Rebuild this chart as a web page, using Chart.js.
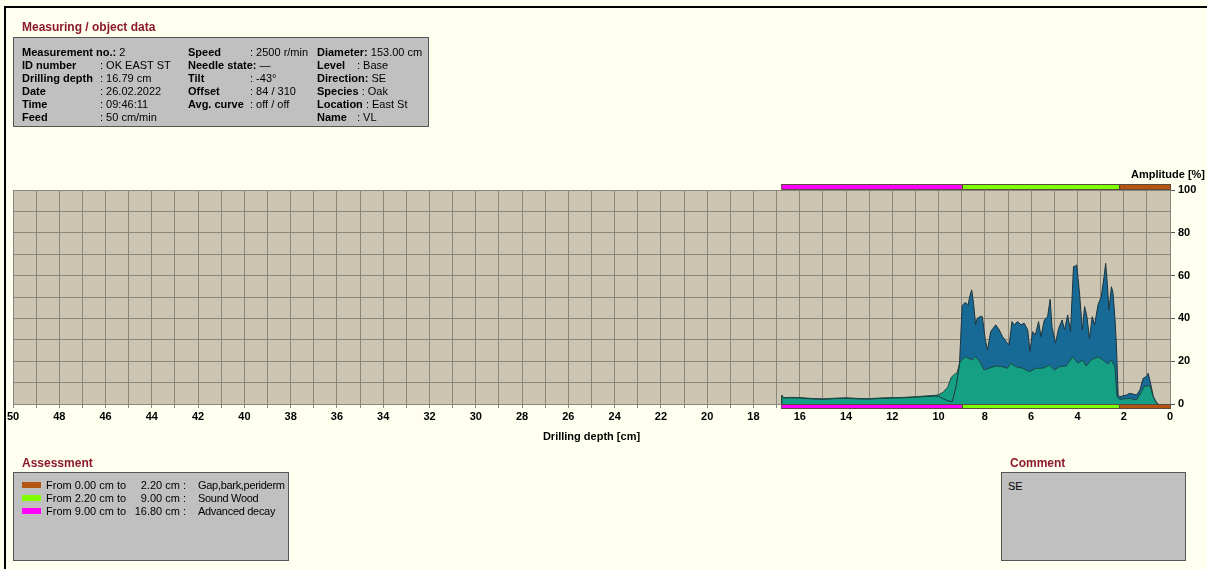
<!DOCTYPE html>
<html>
<head>
<meta charset="utf-8">
<script src="https://cdn.jsdelivr.net/npm/chart.js@4"></script>
<style>
  body { margin: 0; background: #fffff0; font-family: "Liberation Sans", Arial, sans-serif; font-size: 11px; color: #000; }
  #page { position: relative; width: 1207px; height: 569px; overflow: hidden; }
  #frame { position: absolute; left: 4px; top: 6px; width: 1210px; height: 570px; border-left: 2px solid #000; border-top: 2px solid #000; }
  canvas { position: absolute; left: 0; top: 0; }
  .title { position: absolute; color: #8b1a2b; font-weight: bold; font-size: 12px; white-space: nowrap; }
  .box { position: absolute; background: #c0c0c0; border: 1px solid #555; box-sizing: border-box; }
  .t { position: absolute; white-space: pre; line-height: 12px; }
  .b { font-weight: bold; }
  .axis-title { position: absolute; font-weight: bold; font-size: 11px; white-space: nowrap; }
</style>
</head>
<body>
<div id="page">
  <div id="frame"></div>
  <canvas id="chart" width="1207" height="569"></canvas>

  <div class="title" style="left:22px; top:20px;">Measuring / object data</div>
  <div class="box" id="info" style="left:13px; top:37px; width:416px; height:90px;"></div>

  <div class="axis-title" style="right:2px; top:168px;">Amplitude [%]</div>

  <div class="title" style="left:22px; top:456px;">Assessment</div>
  <div class="box" id="assess" style="left:13px; top:472px; width:276px; height:89px;"></div>

  <div class="title" style="left:1010px; top:456px;">Comment</div>
  <div class="box" style="left:1001px; top:472px; width:185px; height:89px;">
    <div class="t" style="left:6px; top:7px;">SE</div>
  </div>
</div>

<script>
// drilling curve: depth [cm] and amplitude [%]
const depthTotal = [16.79, 16.78, 16.7, 16.4, 16, 15.5, 15, 14.5, 14, 13.5, 13, 12.5, 12, 11.5, 11, 10.5, 10.2, 10, 9.8, 9.6, 9.41, 9.25, 9.1, 9.05, 8.98, 8.9, 8.83, 8.73, 8.66, 8.57, 8.49, 8.4, 8.33, 8.18, 8.11, 7.99, 7.89, 7.75, 7.6, 7.53, 7.38, 7.24, 7.07, 6.95, 6.83, 6.73, 6.59, 6.44, 6.3, 6.15, 6.05, 5.94, 5.82, 5.68, 5.58, 5.43, 5.29, 5.18, 5.1, 4.95, 4.81, 4.66, 4.56, 4.42, 4.3, 4.17, 4.08, 4.03, 3.91, 3.79, 3.69, 3.59, 3.48, 3.36, 3.26, 3.11, 2.97, 2.85, 2.78, 2.71, 2.64, 2.53, 2.46, 2.38, 2.32, 2.24, 2.17, 1.88, 1.74, 1.45, 1.3, 1.16, 1.0, 0.94, 0.84, 0.72, 0.58, 0.5];
const ampTotal = [0, 3.9, 2.8, 2.9, 2.8, 2.4, 2.2, 2.5, 2.7, 2.4, 2.3, 2.6, 2.8, 2.9, 3.2, 3.5, 3.7, 3.6, 2.5, 1.5, 1.1, 8, 18, 30, 46, 47, 47.4, 46, 50, 53.3, 47, 37, 40, 41, 40.8, 30.7, 25.2, 33.8, 36, 37, 34.6, 31.5, 29, 27.6, 38.5, 37, 38.5, 37, 37.7, 34.6, 24.5, 33.8, 32.2, 38.5, 31.5, 39.3, 40.8, 48.9, 36.1, 28.4, 35.4, 39.3, 34.6, 41.6, 33.8, 64.2, 64.5, 65, 51.7, 34.6, 45.5, 40.8, 30.7, 40.8, 37, 46.3, 50.2, 59.5, 65.7, 56.4, 44, 54.8, 51.7, 40, 28.4, 4.2, 3.4, 4.2, 5, 4.2, 6.5, 12, 13, 14.3, 9.7, 3.4, 0.6, 0];

const depthFeed = [16.79, 16.78, 16.7, 16.4, 16, 15.5, 15, 14.5, 14, 13.5, 13, 12.5, 12, 11.5, 11, 10.5, 10.2, 10, 9.8, 9.6, 9.45, 9.3, 9.2, 9.1, 9.0, 8.83, 8.69, 8.54, 8.4, 8.22, 8.03, 7.82, 7.53, 7.24, 7.03, 6.88, 6.66, 6.37, 6.08, 5.79, 5.5, 5.21, 4.99, 4.78, 4.49, 4.2, 3.98, 3.77, 3.62, 3.41, 3.11, 2.9, 2.68, 2.53, 2.38, 2.29, 2.17, 1.74, 1.45, 1.23, 1.09, 0.87, 0.72, 0.58, 0.5];
const ampFeed = [0, 4.2, 3.0, 3.1, 3.0, 2.6, 2.4, 2.7, 2.9, 2.6, 2.5, 2.8, 3.0, 3.1, 3.4, 3.8, 4.0, 4.3, 5.5, 8.0, 12.5, 14, 14.5, 19, 20.6, 22.1, 21.3, 20.6, 22.1, 19.8, 15.9, 16.7, 17.8, 17.4, 16.7, 19, 17.4, 16.7, 15.1, 16.7, 16.7, 18.2, 15.9, 17.4, 17.8, 22.1, 19, 20.6, 17.8, 20.6, 22.1, 20.6, 18.7, 20.6, 17.4, 3.4, 2.2, 2.6, 1.9, 5.8, 8.4, 8.4, 3.4, 0.3, 0];

// assessment zones
const zoneFrom = [0.00, 2.20, 9.00];
const zoneTo = [2.20, 9.00, 16.80];
const zoneText = ['Gap,bark,periderm', 'Sound Wood', 'Advanced decay'];
const zoneColor = ['#b4560f', '#80ff00', '#ff00ff'];

// header info (label, value) per column
const infoCol1 = [['Measurement no.:', ' 2'], ['ID number', ': OK EAST ST'], ['Drilling depth', ': 16.79 cm'], ['Date', ': 26.02.2022'], ['Time', ': 09:46:11'], ['Feed', ': 50 cm/min']];
const infoCol2 = [['Speed', ': 2500 r/min'], ['Needle state:', ' \u2014'], ['Tilt', ': -43\u00b0'], ['Offset', ': 84 / 310'], ['Avg. curve', ': off / off']];
const infoCol3 = [['Diameter:', ' 153.00 cm'], ['Level', ': Base'], ['Direction:', ' SE'], ['Species', ' : Oak'], ['Location', ' : East St'], ['Name', ': VL']];

const info = document.getElementById('info');
function addCol(rows, x, vx) {
  rows.forEach((r, i) => {
    const top = 8 + i * 13;
    const l = document.createElement('div');
    l.className = 't b';
    l.style.left = x + 'px'; l.style.top = top + 'px';
    if (r[1].startsWith(':')) {
      l.textContent = r[0];
      const v = document.createElement('div');
      v.className = 't';
      v.style.left = vx + 'px'; v.style.top = top + 'px';
      v.textContent = r[1];
      info.appendChild(v);
    } else {
      l.innerHTML = r[0] + '<span style="font-weight:normal">' + r[1] + '</span>';
    }
    info.appendChild(l);
  });
}
addCol(infoCol1, 8, 86);
addCol(infoCol2, 174, 236);
addCol(infoCol3, 303, 343);

const assess = document.getElementById('assess');
zoneFrom.forEach((f, i) => {
  const top = 6 + i * 13;
  assess.insertAdjacentHTML('beforeend',
    `<div style="position:absolute;left:8px;top:${top + 3}px;width:19px;height:6px;background:${zoneColor[i]}"></div>` +
    `<div class="t" style="left:32px;top:${top}px">From ${f.toFixed(2)} cm to</div>` +
    `<div class="t" style="right:102px;top:${top}px;text-align:right">${zoneTo[i].toFixed(2)} cm :</div>` +
    `<div class="t" style="left:184px;top:${top}px;letter-spacing:-0.3px">${zoneText[i]}</div>`);
});

const plotBg = {
  id: 'plotBg',
  beforeDraw(chart) {
    const { ctx, chartArea: a } = chart;
    ctx.save();
    ctx.fillStyle = '#cbc5b1';
    ctx.fillRect(a.left, a.top, a.right - a.left, a.bottom - a.top);
    ctx.restore();
  }
};

// colored zone bars above and below the plot
const zoneBars = {
  id: 'zoneBars',
  afterDraw(chart) {
    const { ctx, chartArea: a } = chart;
    const xs = chart.scales.x;
    ctx.save();
    zoneFrom.forEach((f, i) => {
      const x1 = xs.getPixelForValue(zoneTo[i]);
      const x2 = xs.getPixelForValue(f);
      ctx.fillStyle = zoneColor[i];
      ctx.fillRect(x1, a.top - 6, x2 - x1, 5);
      ctx.fillRect(x1, a.bottom, x2 - x1, 5);
      ctx.strokeStyle = '#5a4a40';
      ctx.lineWidth = 1;
      ctx.strokeRect(x1 + 0.5, a.top - 5.5, x2 - x1, 5);
      ctx.strokeRect(x1 + 0.5, a.bottom + 0.5, x2 - x1, 4);
    });
    ctx.restore();
  }
};

const toPts = (xs, ys) => xs.map((x, i) => ({ x: x, y: ys[i] }));

new Chart(document.getElementById('chart'), {
  type: 'line',
  data: {
    datasets: [{
      label: 'Feed',
      data: toPts(depthFeed, ampFeed),
      backgroundColor: '#15a086',
      borderColor: '#1d4a40',
      borderWidth: 1,
      pointRadius: 0,
      fill: 'origin'
    }, {
      label: 'Drilling',
      data: toPts(depthTotal, ampTotal),
      backgroundColor: '#166a95',
      borderColor: '#1b3440',
      borderWidth: 1,
      pointRadius: 0,
      fill: 'origin'
    }]
  },
  options: {
    responsive: false,
    animation: false,
    layout: { padding: { left: 13, top: 190, right: 0, bottom: 125 } },
    plugins: {
      legend: { display: false },
      tooltip: { enabled: false },
      filler: { drawTime: 'beforeDatasetsDraw' }
    },
    scales: {
      x: {
        type: 'linear',
        reverse: true,
        min: 0,
        max: 50,
        afterFit(s) { s.height = 40; },
        grid: { color: '#8a867c', tickLength: 4 },
        border: { color: '#8a867c' },
        ticks: {
          stepSize: 1,
          autoSkip: false,
          maxRotation: 0,
          padding: 2,
          color: '#000',
          font: { family: 'Liberation Sans', size: 11, weight: 'bold' },
          callback: v => (v % 2 === 0 ? v : '')
        },
        title: {
          display: true,
          text: 'Drilling depth [cm]',
          color: '#000',
          padding: { top: 4, bottom: 0 },
          font: { family: 'Liberation Sans', size: 11, weight: 'bold' }
        }
      },
      y: {
        position: 'right',
        min: 0,
        max: 100,
        afterFit(s) { s.width = 37; },
        grid: {
          color: '#8a867c',
          tickLength: 5,
          tickColor: c => (c.tick && c.tick.value % 20 === 0 ? '#555' : 'rgba(0,0,0,0)')
        },
        border: { color: '#8a867c' },
        ticks: {
          stepSize: 10,
          padding: 3,
          color: '#000',
          font: { family: 'Liberation Sans', size: 11, weight: 'bold' },
          callback: v => (v % 20 === 0 ? v : '')
        }
      }
    }
  },
  plugins: [plotBg, zoneBars]
});
</script>
</body>
</html>
